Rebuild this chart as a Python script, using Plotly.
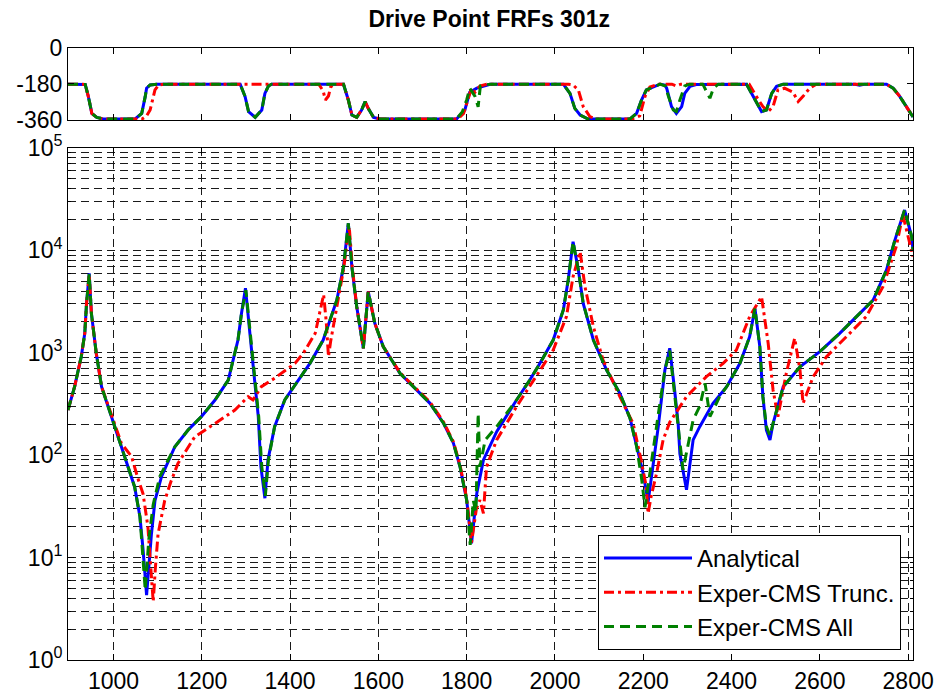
import plotly.graph_objects as go

# ---------------- magnitude data ----------------
freq_analytical = [897, 912, 927, 935, 939, 945, 950, 956, 961, 973, 988, 1003, 1018, 1033, 1048, 1060, 1067, 1075,
                   1086, 1094, 1109, 1139, 1169, 1199, 1230, 1260, 1282, 1290, 1299, 1309, 1320, 1328, 1334, 1343,
                   1350, 1365, 1388, 1418, 1445, 1475, 1506, 1521, 1532, 1540, 1551, 1566, 1577, 1592, 1611, 1649,
                   1687, 1717, 1748, 1770, 1785, 1800, 1811, 1823, 1838, 1868, 1913, 1943, 1966, 1996, 2019, 2030,
                   2041, 2053, 2064, 2087, 2117, 2147, 2170, 2185, 2200, 2211, 2222, 2234, 2249, 2260, 2271, 2279,
                   2283, 2298, 2313, 2328, 2358, 2389, 2419, 2441, 2453, 2464, 2471, 2479, 2487, 2494, 2517, 2555,
                   2600, 2645, 2683, 2721, 2751, 2770, 2792, 2808, 2811]
mag_analytical = [276, 467, 916, 1550, 3040, 5970, 2430, 1550, 990, 467, 298, 190, 121, 77, 49, 25, 12, 4.3,
                  17, 36, 62, 121, 176, 238, 346, 542, 1333, 2430, 4270, 1550, 503, 238, 77, 38,
                  90, 190, 346, 542, 789, 1333, 3280, 6900, 18400, 6900, 2820, 1107, 3960, 1940, 1150, 631,
                  433, 321, 204, 131, 77, 36.5, 13.8, 42.5, 90, 170, 346, 542, 789, 1333, 2620, 5140,
                  12150, 6440, 3040, 1333, 679, 402, 230, 121, 66, 35, 77, 190, 679, 1107, 433, 204,
                  103, 46, 141, 190, 321, 467, 789, 1436, 2717, 1150, 373, 176, 141, 204, 467, 731,
                  1025, 1550, 2254, 3280, 6440, 12600, 24800, 13600, 10000]

freq_trunc = [897, 912, 927, 935, 939, 945, 950, 956, 961, 973, 988, 1003, 1018, 1041, 1055, 1067, 1078, 1085,
              1090, 1095, 1101, 1116, 1130, 1146, 1184, 1230, 1275, 1305, 1316, 1335, 1365, 1411, 1430, 1457,
              1468, 1476, 1482, 1487, 1492, 1498, 1510, 1521, 1534, 1541, 1551, 1566, 1577, 1592, 1611, 1649,
              1687, 1717, 1748, 1770, 1785, 1800, 1811, 1822, 1830, 1838, 1845, 1868, 1913, 1943, 1996, 2026,
              2041, 2057, 2068, 2087, 2109, 2147, 2177, 2195, 2207, 2211, 2218, 2230, 2245, 2260, 2298, 2343,
              2381, 2411, 2441, 2468, 2483, 2494, 2505, 2524, 2543, 2555, 2562, 2585, 2615, 2660, 2705, 2743,
              2773, 2788, 2811]
mag_trunc = [276, 467, 916, 1550, 3040, 5800, 2430, 1550, 990, 467, 298, 200, 130, 97, 60, 42, 20, 8,
             3.7, 8, 17, 36, 55, 83, 151, 204, 276, 373, 346, 467, 564, 789, 990, 1550,
             2620, 3700, 2000, 916, 1300, 1800, 3300, 6500, 17000, 6900, 2820, 1107, 3960, 1940, 1150, 640,
             440, 330, 210, 135, 80, 38, 14, 30, 36.5, 27, 77, 141, 298, 467, 1065, 2254,
             5540, 9700, 4430, 1800, 850, 373, 204, 90, 49, 27, 40, 66, 141, 210, 373, 585,
             789, 1065, 2254, 3530, 1238, 433, 238, 631, 1387, 679, 321, 585, 916, 1436, 2254, 4430,
             10900, 22200, 8700]

freq_all = [897, 912, 927, 935, 939, 945, 950, 956, 961, 973, 988, 1003, 1018, 1033, 1048, 1060, 1066, 1072,
            1080, 1090, 1105, 1139, 1169, 1199, 1230, 1260, 1282, 1290, 1300, 1310, 1321, 1329, 1336, 1344,
            1351, 1365, 1388, 1418, 1445, 1475, 1506, 1521, 1532, 1540, 1551, 1566, 1577, 1592, 1611, 1649,
            1687, 1717, 1748, 1770, 1785, 1800, 1808, 1815, 1821, 1826, 1830, 1842, 1868, 1913, 1943, 1966,
            1996, 2019, 2030, 2041, 2053, 2064, 2087, 2117, 2147, 2170, 2185, 2196, 2204, 2213, 2222, 2234,
            2249, 2260, 2270, 2278, 2290, 2313, 2328, 2340, 2351, 2373, 2389, 2419, 2441, 2453, 2464, 2471,
            2479, 2487, 2494, 2517, 2555, 2600, 2645, 2683, 2721, 2751, 2770, 2792, 2808, 2811]
mag_all = [276, 467, 916, 1550, 3040, 5900, 2430, 1550, 990, 467, 298, 190, 121, 77, 49, 25, 12, 4.8,
           15, 33, 62, 121, 176, 238, 346, 542, 1333, 2430, 4100, 1550, 503, 238, 77, 40,
           90, 190, 346, 542, 789, 1333, 3280, 6900, 18400, 6900, 2820, 1107, 3960, 1940, 1150, 631,
           433, 321, 204, 131, 77, 36.5, 13.3, 36, 28, 256, 77, 141, 190, 346, 542, 789,
           1333, 2620, 5140, 12150, 6440, 3040, 1333, 679, 402, 230, 121, 60, 31, 60, 103, 250,
           679, 1050, 430, 200, 72, 221, 300, 503, 238, 373, 467, 789, 1436, 2717, 1150, 373,
           190, 155, 204, 467, 731, 1025, 1550, 2254, 3280, 6440, 12600, 24800, 13600, 10000]

# ---------------- phase data ----------------
phase_freq_analytical = [897, 936, 943, 951, 962, 977, 1049, 1064, 1072, 1075, 1083, 1098, 1287, 1298, 1306, 1321,
                         1336, 1343, 1351, 1358, 1521, 1532, 1540, 1551, 1562, 1570, 1577, 1589, 1604, 1777, 1796,
                         1807, 1823, 1838, 1853, 2019, 2034, 2045, 2057, 2075, 2170, 2185, 2196, 2207, 2226, 2238,
                         2249, 2253, 2264, 2275, 2287, 2294, 2306, 2320, 2434, 2449, 2460, 2468, 2479, 2491, 2502,
                         2517, 2680, 2690, 2700, 2751, 2766, 2781, 2796, 2808, 2811]
phase_analytical = [-181, -182, -242, -327, -347, -355, -355, -327, -242, -201, -185, -181, -181, -242, -318, -347,
                    -310, -227, -190, -181, -181, -260, -335, -347, -310, -268, -302, -347, -355, -355, -310,
                    -221, -201, -192, -181, -181, -227, -302, -335, -355, -355, -327, -260, -210, -190, -181,
                    -185, -201, -293, -327, -293, -227, -192, -183, -181, -242, -293, -318, -310, -227, -192,
                    -181, -181, -186, -181, -181, -201, -242, -293, -335, -345]

phase_freq_trunc = [897, 936, 943, 951, 962, 977, 1065, 1075, 1083, 1091, 1094, 1102, 1115, 1465, 1475, 1480,
                    1487, 1492, 1500, 1521, 1532, 1540, 1551, 1562, 1570, 1577, 1589, 1604, 1780, 1793, 1804,
                    1811, 1819, 1830, 1845, 2030, 2041, 2053, 2064, 2079, 2094, 2175, 2192, 2204, 2215, 2235,
                    2265, 2275, 2285, 2440, 2456, 2471, 2483, 2494, 2505, 2520, 2539, 2551, 2562, 2577, 2592,
                    2751, 2766, 2781, 2796, 2808, 2811]
phase_trunc = [-181, -182, -242, -327, -347, -355, -355, -340, -310, -242, -210, -185, -181, -181, -215, -260,
               -240, -195, -181, -181, -260, -335, -347, -310, -268, -302, -347, -355, -355, -327, -242,
               -201, -221, -190, -181, -181, -185, -210, -293, -343, -355, -355, -340, -242, -195, -181,
               -181, -190, -181, -181, -242, -293, -318, -293, -210, -201, -221, -268, -242, -201, -181,
               -181, -201, -242, -293, -335, -345]

phase_freq_all = [897, 936, 943, 951, 962, 977, 1049, 1064, 1072, 1075, 1083, 1098, 1287, 1298, 1306, 1321,
                  1336, 1343, 1351, 1358, 1521, 1532, 1540, 1551, 1562, 1570, 1577, 1589, 1604, 1777, 1790,
                  1800, 1807, 1819, 1826, 1831, 1841, 1853, 2019, 2034, 2045, 2057, 2075, 2170, 2185, 2196,
                  2207, 2226, 2238, 2250, 2257, 2268, 2275, 2283, 2294, 2305, 2335, 2344, 2351, 2359, 2370,
                  2434, 2449, 2460, 2468, 2479, 2491, 2502, 2517, 2751, 2766, 2781, 2796, 2808, 2811]
phase_all = [-181, -182, -242, -327, -347, -355, -355, -327, -242, -201, -185, -181, -181, -242, -318, -347,
             -310, -227, -190, -181, -181, -260, -335, -347, -310, -268, -302, -347, -355, -355, -320,
             -260, -201, -242, -294, -190, -185, -181, -181, -227, -302, -335, -355, -355, -327, -260,
             -210, -190, -181, -190, -242, -310, -318, -260, -190, -181, -181, -221, -251, -201, -181,
             -181, -242, -293, -318, -310, -227, -192, -181, -181, -201, -242, -293, -335, -345]

series_names = ["Analytical", "Exper-CMS Trunc.", "Exper-CMS All"]
series_colors = ["#0000FF", "#FF0000", "#008000"]
series_dash = ["solid", "10px,4px,3px,4px", "10px,6px"]

x_tickvals = [1000, 1200, 1400, 1600, 1800, 2000, 2200, 2400, 2600, 2800]
y_major = [1, 10, 100, 1000, 10000, 100000]
y_major_text = ["10<sup>0</sup>", "10<sup>1</sup>", "10<sup>2</sup>", "10<sup>3</sup>", "10<sup>4</sup>", "10<sup>5</sup>"]
y_minor = [k * m for m in [1, 10, 100, 1000, 10000] for k in range(2, 10)]
phase_tickvals = [-360, -180, 0]
phase_ticktext = ["-360", "-180", "0"]
title_text = "Drive Point FRFs 301z"

FONT = "Liberation Sans, Arial, Helvetica, sans-serif"
TICK_SIZE = 23

fig = go.Figure()

mags = [(freq_analytical, mag_analytical), (freq_trunc, mag_trunc), (freq_all, mag_all)]
phases = [(phase_freq_analytical, phase_analytical), (phase_freq_trunc, phase_trunc), (phase_freq_all, phase_all)]

for i in range(3):
    fig.add_trace(go.Scatter(x=phases[i][0], y=phases[i][1], mode="lines", xaxis="x2", yaxis="y2",
                             line=dict(color=series_colors[i], dash=series_dash[i], width=3),
                             showlegend=False, hoverinfo="skip"))
for i in range(3):
    fig.add_trace(go.Scatter(x=mags[i][0], y=mags[i][1], mode="lines", xaxis="x", yaxis="y",
                             name=series_names[i],
                             line=dict(color=series_colors[i], dash=series_dash[i], width=3),
                             hoverinfo="skip"))

grid_color = "#1a1a1a"
grid_dash = "8px,5px"
x_range = [897, 2811]

fig.update_layout(
    width=938, height=694,
    margin=dict(l=68, r=25, t=48, b=34, autoexpand=False),
    paper_bgcolor="white", plot_bgcolor="white",
    font=dict(family=FONT, size=TICK_SIZE, color="black"),
    title=dict(text="<b>" + title_text + "</b>", x=0.5215, xanchor="center", y=0.972, yanchor="middle",
               font=dict(family=FONT, size=23, color="black"), automargin=False),
    showlegend=True,
    legend=dict(x=0.9858, y=0.0163, xanchor="right", yanchor="bottom",
                bgcolor="white", bordercolor="black", borderwidth=1, tracegroupgap=0,
                font=dict(family=FONT, size=24, color="black"), itemwidth=88),
    xaxis=dict(domain=[0, 1], range=x_range, tickvals=x_tickvals, ticks="inside", ticklen=6,
               tickcolor="black", showline=True, linecolor="black", linewidth=1, mirror="ticks",
               showgrid=True, gridcolor=grid_color, griddash=grid_dash, gridwidth=1, zeroline=False,
               tickfont=dict(size=TICK_SIZE), ticklabelstandoff=0, anchor="y", automargin=False),
    yaxis=dict(domain=[0, 0.8366], type="log", range=[0, 5], tickvals=y_major, ticktext=y_major_text,
               ticks="inside", ticklen=6, tickcolor="black", showline=True, linecolor="black",
               linewidth=1, mirror="ticks", showgrid=True, gridcolor=grid_color, griddash=grid_dash,
               gridwidth=1, zeroline=False, tickfont=dict(size=TICK_SIZE), anchor="x", automargin=False,
               minor=dict(tickvals=y_minor, ticks="inside", ticklen=3, tickcolor="black",
                          showgrid=True, gridcolor=grid_color, griddash=grid_dash, gridwidth=1)),
    xaxis2=dict(domain=[0, 1], range=x_range, tickvals=x_tickvals, ticks="inside", ticklen=6,
                tickcolor="black", showline=True, linecolor="black", linewidth=1, mirror="ticks",
                showgrid=False, zeroline=False, showticklabels=False, anchor="y2", automargin=False),
    yaxis2=dict(domain=[0.8824, 1], range=[-360, 0], tickvals=phase_tickvals, ticktext=phase_ticktext,
                ticks="inside", ticklen=6, tickcolor="black", showline=True, linecolor="black",
                linewidth=1, mirror="ticks", showgrid=False, zeroline=False, tickfont=dict(size=TICK_SIZE),
                anchor="x2", automargin=False),
)

fig.write_html("out.html", config={"displayModeBar": False})
